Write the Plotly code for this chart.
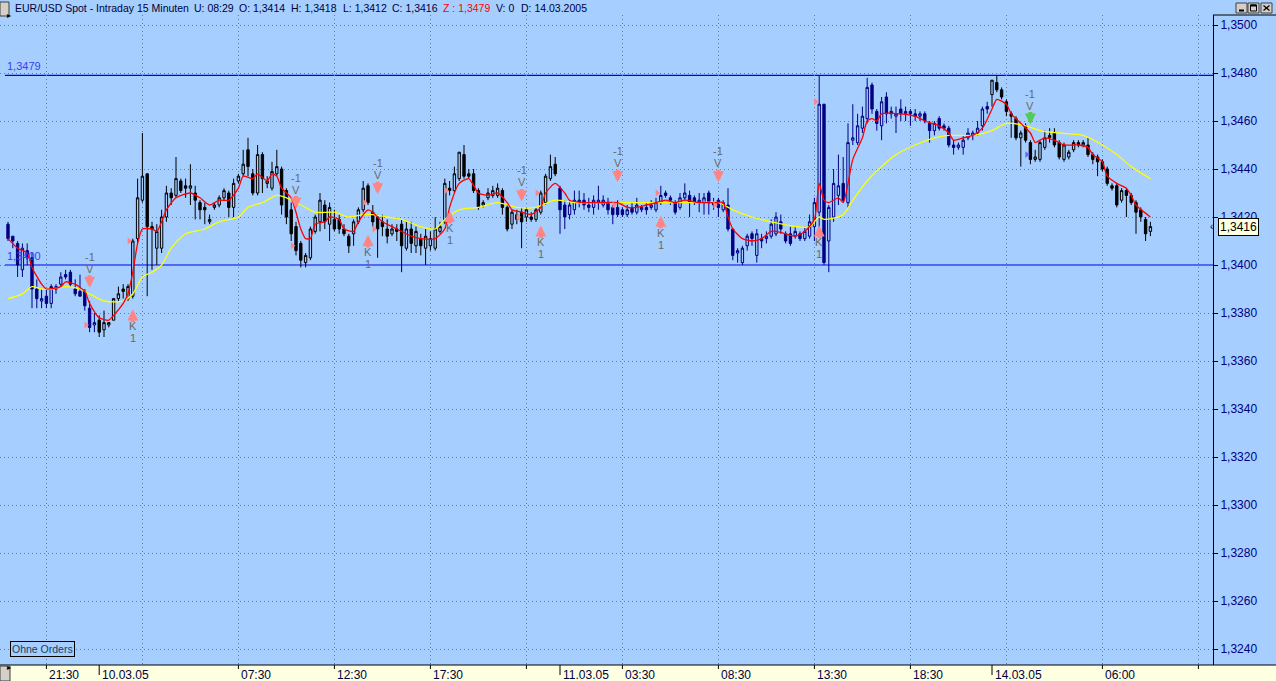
import plotly.graph_objects as go

# ---------------- data ----------------
opens = [1.3417,1.3412,1.3409,1.3398,1.3406,1.3403,1.3390,1.3385,1.3387,1.3384,
         1.3390,1.3392,1.3396,1.3397,1.3390,1.3389,1.3389,1.3382,1.3375,1.3377,
         1.3373,1.3375,1.3377,1.3386,1.3390,1.3386,1.3387,1.3411,1.3427,1.3438,
         1.3416,1.3407,1.3407,1.3420,1.3430,1.3429,1.3435,1.3433,1.3432,1.3430,
         1.3426,1.3424,1.3418,1.3424,1.3425,1.3428,1.3430,1.3424,1.3435,1.3438,
         1.3448,1.3438,1.3430,1.3446,1.3434,1.3432,1.3438,1.3440,1.3431,1.3423,
         1.3416,1.3409,1.3401,1.3403,1.3414,1.3418,1.3425,1.3417,1.3419,1.3419,
         1.3415,1.3412,1.3413,1.3418,1.3423,1.3433,1.3422,1.3420,1.3418,1.3415,
         1.3413,1.3415,1.3417,1.3407,1.3415,1.3408,1.3411,1.3407,1.3408,1.3407,
         1.3414,1.3418,1.3432,1.3431,1.3436,1.3446,1.3438,1.3438,1.3431,1.3425,
         1.3428,1.3429,1.3429,1.3431,1.3424,1.3417,1.3421,1.3422,1.3420,1.3420,
         1.3419,1.3422,1.3426,1.3436,1.3442,1.3432,1.3425,1.3421,1.3423,1.3427,
         1.3427,1.3425,1.3424,1.3426,1.3425,1.3426,1.3424,1.3424,1.3423,1.3421,
         1.3424,1.3422,1.3423,1.3424,1.3424,1.3423,1.3426,1.3430,1.3428,1.3426,
         1.3424,1.3428,1.3429,1.3428,1.3426,1.3426,1.3430,1.3426,1.3427,1.3423,
         1.3425,1.3415,1.3405,1.3401,1.3408,1.3413,1.3404,1.3411,1.3411,1.3412,
         1.3413,1.3418,1.3413,1.3413,1.3412,1.3413,1.3411,1.3412,1.3416,1.3422,
         1.3467,1.3410,1.3420,1.3429,1.3434,1.3426,1.3452,1.3451,1.3457,1.3461,
         1.3475,1.3464,1.3458,1.3470,1.3464,1.3462,1.3465,1.3463,1.3464,1.3463,
         1.3462,1.3463,1.3459,1.3456,1.3461,1.3458,1.3457,1.3450,1.3449,1.3449,
         1.3453,1.3454,1.3455,1.3458,1.3466,1.3471,1.3476,1.3473,1.3468,1.3463,
         1.3461,1.3453,1.3458,1.3451,1.3444,1.3444,1.3449,1.3453,1.3455,1.3451,
         1.3444,1.3445,1.3448,1.3451,1.3450,1.3450,1.3446,1.3445,1.3443,1.3440,
         1.3433,1.3433,1.3427,1.3431,1.3429,1.3426,1.3423,1.3419,1.3414]
highs = [1.3418,1.3412,1.3410,1.3409,1.3409,1.3405,1.3394,1.3390,1.3390,1.3392,
         1.3392,1.3397,1.3398,1.3398,1.3394,1.3396,1.3390,1.3385,1.3380,1.3379,
         1.3381,1.3376,1.3386,1.3391,1.3392,1.3392,1.3411,1.3436,1.3455,1.3438,
         1.3418,1.3417,1.3423,1.3433,1.3432,1.3445,1.3436,1.3436,1.3442,1.3433,
         1.3427,1.3426,1.3421,1.3426,1.3429,1.3432,1.3431,1.3436,1.3438,1.3448,
         1.3453,1.3440,1.3450,1.3447,1.3437,1.3443,1.3448,1.3441,1.3432,1.3426,
         1.3418,1.3410,1.3405,1.3416,1.3421,1.3430,1.3427,1.3426,1.3423,1.3421,
         1.3417,1.3413,1.3419,1.3424,1.3435,1.3434,1.3425,1.3421,1.3421,1.3419,
         1.3417,1.3417,1.3419,1.3418,1.3418,1.3416,1.3413,1.3415,1.3414,1.3420,
         1.3418,1.3436,1.3435,1.3441,1.3447,1.3450,1.3440,1.3440,1.3432,1.3427,
         1.3432,1.3433,1.3434,1.3432,1.3425,1.3423,1.3423,1.3424,1.3424,1.3422,
         1.3424,1.3431,1.3438,1.3446,1.3445,1.3433,1.3427,1.3427,1.3431,1.3431,
         1.3430,1.3428,1.3429,1.3433,1.3429,1.3428,1.3425,1.3427,1.3424,1.3425,
         1.3426,1.3428,1.3425,1.3426,1.3427,1.3428,1.3433,1.3431,1.3429,1.3427,
         1.3430,1.3434,1.3431,1.3429,1.3430,1.3430,1.3431,1.3428,1.3428,1.3427,
         1.3432,1.3415,1.3407,1.3408,1.3413,1.3414,1.3415,1.3413,1.3414,1.3419,
         1.3422,1.3421,1.3414,1.3416,1.3416,1.3414,1.3416,1.3421,1.3428,1.3479,
         1.3467,1.3425,1.3440,1.3446,1.3445,1.3459,1.3467,1.3463,1.3466,1.3478,
         1.3476,1.3465,1.3470,1.3472,1.3466,1.3466,1.3469,1.3466,1.3465,1.3465,
         1.3464,1.3464,1.3460,1.3460,1.3462,1.3459,1.3458,1.3452,1.3451,1.3454,
         1.3457,1.3456,1.3460,1.3466,1.3468,1.3477,1.3479,1.3474,1.3469,1.3464,
         1.3462,1.3456,1.3459,1.3452,1.3448,1.3452,1.3456,1.3457,1.3457,1.3452,
         1.3451,1.3448,1.3452,1.3452,1.3452,1.3453,1.3447,1.3446,1.3444,1.3441,
         1.3434,1.3434,1.3432,1.3432,1.3430,1.3427,1.3424,1.3420,1.3418]
lows = [1.3410,1.3407,1.3395,1.3395,1.3400,1.3382,1.3382,1.3382,1.3382,1.3382,
        1.3388,1.3391,1.3394,1.3391,1.3387,1.3387,1.3381,1.3372,1.3372,1.3370,
        1.3370,1.3374,1.3377,1.3385,1.3386,1.3385,1.3386,1.3409,1.3426,1.3387,
        1.3398,1.3400,1.3405,1.3418,1.3425,1.3428,1.3430,1.3428,1.3425,1.3419,
        1.3419,1.3417,1.3417,1.3423,1.3424,1.3427,1.3420,1.3420,1.3434,1.3437,
        1.3437,1.3429,1.3429,1.3430,1.3432,1.3431,1.3437,1.3421,1.3417,1.3410,
        1.3404,1.3399,1.3399,1.3402,1.3413,1.3414,1.3415,1.3410,1.3414,1.3413,
        1.3412,1.3405,1.3408,1.3417,1.3422,1.3425,1.3416,1.3403,1.3412,1.3409,
        1.3412,1.3410,1.3397,1.3406,1.3405,1.3405,1.3404,1.3400,1.3406,1.3406,
        1.3413,1.3417,1.3429,1.3430,1.3435,1.3436,1.3436,1.3430,1.3423,1.3424,
        1.3427,1.3428,1.3428,1.3421,1.3414,1.3415,1.3417,1.3407,1.3418,1.3418,
        1.3418,1.3421,1.3425,1.3435,1.3437,1.3413,1.3415,1.3419,1.3421,1.3424,
        1.3423,1.3422,1.3421,1.3423,1.3424,1.3421,1.3417,1.3420,1.3420,1.3420,
        1.3421,1.3421,1.3422,1.3421,1.3423,1.3422,1.3425,1.3428,1.3425,1.3421,
        1.3423,1.3427,1.3420,1.3425,1.3422,1.3421,1.3421,1.3423,1.3420,1.3422,
        1.3414,1.3402,1.3401,1.3400,1.3406,1.3408,1.3401,1.3407,1.3409,1.3411,
        1.3412,1.3413,1.3409,1.3408,1.3411,1.3410,1.3410,1.3411,1.3410,1.3414,
        1.3400,1.3397,1.3418,1.3425,1.3426,1.3424,1.3450,1.3450,1.3455,1.3459,
        1.3463,1.3456,1.3452,1.3459,1.3461,1.3455,1.3460,1.3460,1.3458,1.3460,
        1.3460,1.3459,1.3451,1.3454,1.3456,1.3456,1.3449,1.3446,1.3448,1.3446,
        1.3452,1.3452,1.3454,1.3456,1.3463,1.3466,1.3472,1.3469,1.3462,1.3453,
        1.3452,1.3441,1.3451,1.3442,1.3443,1.3443,1.3448,1.3451,1.3449,1.3444,
        1.3443,1.3444,1.3447,1.3449,1.3449,1.3445,1.3442,1.3437,1.3439,1.3433,
        1.3431,1.3424,1.3426,1.3420,1.3425,1.3413,1.3418,1.3410,1.3412]
closes = [1.3411,1.3410,1.3400,1.3407,1.3403,1.3390,1.3386,1.3386,1.3384,1.3391,
          1.3391,1.3395,1.3395,1.3392,1.3388,1.3387,1.3383,1.3374,1.3376,1.3372,
          1.3376,1.3376,1.3386,1.3388,1.3389,1.3391,1.3410,1.3428,1.3437,1.3416,
          1.3415,1.3414,1.3420,1.3430,1.3428,1.3436,1.3431,1.3432,1.3433,1.3427,
          1.3423,1.3423,1.3419,1.3425,1.3428,1.3431,1.3424,1.3434,1.3437,1.3442,
          1.3441,1.3430,1.3446,1.3436,1.3435,1.3439,1.3441,1.3425,1.3420,1.3413,
          1.3406,1.3402,1.3404,1.3415,1.3420,1.3427,1.3418,1.3424,1.3415,1.3415,
          1.3413,1.3408,1.3418,1.3423,1.3432,1.3426,1.3418,1.3415,1.3416,1.3412,
          1.3415,1.3414,1.3408,1.3415,1.3409,1.3414,1.3408,1.3412,1.3411,1.3415,
          1.3416,1.3434,1.3431,1.3438,1.3447,1.3437,1.3437,1.3431,1.3424,1.3426,
          1.3430,1.3431,1.3432,1.3424,1.3415,1.3422,1.3419,1.3418,1.3423,1.3419,
          1.3423,1.3430,1.3437,1.3441,1.3438,1.3423,1.3420,1.3425,1.3427,1.3426,
          1.3425,1.3424,1.3427,1.3427,1.3427,1.3423,1.3421,1.3421,1.3421,1.3423,
          1.3422,1.3425,1.3424,1.3423,1.3425,1.3426,1.3429,1.3429,1.3427,1.3422,
          1.3428,1.3430,1.3426,1.3426,1.3427,1.3428,1.3426,1.3425,1.3424,1.3426,
          1.3415,1.3404,1.3406,1.3407,1.3412,1.3411,1.3413,1.3410,1.3412,1.3417,
          1.3420,1.3415,1.3410,1.3409,1.3414,1.3411,1.3414,1.3418,1.3426,1.3467,
          1.3401,1.3424,1.3434,1.3433,1.3427,1.3451,1.3453,1.3458,1.3462,1.3474,
          1.3465,1.3459,1.3468,1.3463,1.3463,1.3463,1.3463,1.3464,1.3463,1.3462,
          1.3463,1.3460,1.3456,1.3459,1.3457,1.3457,1.3450,1.3449,1.3450,1.3452,
          1.3455,1.3455,1.3457,1.3465,1.3465,1.3477,1.3473,1.3470,1.3464,1.3462,
          1.3453,1.3455,1.3452,1.3444,1.3445,1.3451,1.3453,1.3454,1.3450,1.3445,
          1.3450,1.3447,1.3451,1.3450,1.3451,1.3446,1.3444,1.3443,1.3440,1.3434,
          1.3432,1.3425,1.3431,1.3429,1.3426,1.3422,1.3420,1.3413,1.3416]

session_start = [0, 19, 115, 205]          # first bar of 09.03, 10.03, 11.03, 14.03
session_color = ['#000080', '#000000', '#000080', '#000000']

# short moving average (red) and long moving average (yellow)
red_bar = [0,2,4,5,7,8,11,12,14,16,17,19,21,22,24,25,26,27,28,30,31,32,33,35,38,40,42,44,46,48,
           49,51,52,54,55,56,57,59,60,61,62,63,64,66,67,69,70,72,73,75,76,78,80,81,84,86,89,91,92,94,
           96,98,100,102,104,105,107,109,111,112,114,116,117,120,123,127,129,131,133,135,137,139,141,144,147,149,150,151,153,155,
           157,159,160,162,164,166,168,169,170,171,173,174,175,176,178,179,180,181,182,186,189,191,194,196,197,199,201,203,205,206,
           208,209,211,213,214,215,216,218,220,222,223,225,226,228,229,231,233,234,235,238]
red_val = [1.3411,1.3407,1.3405,1.3399,1.3392,1.3390,1.3391,1.3393,1.3392,1.3389,1.3384,1.3378,1.3377,1.3379,1.3384,1.3388,1.3397,1.3409,1.3415,1.3415,
           1.3414,1.3418,1.3423,1.3428,1.3430,1.3428,1.3425,1.3427,1.3427,1.3432,1.3437,1.3436,1.3438,1.3435,1.3438,1.3437,1.3432,1.3428,1.3422,1.3415,
           1.3411,1.3411,1.3417,1.3418,1.3420,1.3419,1.3415,1.3414,1.3418,1.3423,1.3422,1.3418,1.3416,1.3415,1.3412,1.3411,1.3411,1.3415,1.3424,1.3434,
           1.3436,1.3430,1.3429,1.3430,1.3426,1.3423,1.3422,1.3421,1.3424,1.3430,1.3434,1.3430,1.3427,1.3426,1.3426,1.3426,1.3424,1.3424,1.3425,1.3426,
           1.3427,1.3426,1.3427,1.3426,1.3426,1.3426,1.3420,1.3415,1.3411,1.3410,1.3411,1.3414,1.3414,1.3413,1.3412,1.3414,1.3419,1.3434,1.3427,1.3426,
           1.3428,1.3426,1.3434,1.3444,1.3453,1.3460,1.3461,1.3460,1.3463,1.3463,1.3462,1.3460,1.3458,1.3455,1.3452,1.3453,1.3454,1.3457,1.3465,1.3469,
           1.3467,1.3463,1.3459,1.3455,1.3451,1.3452,1.3453,1.3452,1.3450,1.3450,1.3450,1.3449,1.3446,1.3443,1.3437,1.3434,1.3432,1.3429,1.3425,1.3420]
yel_bar = [0,3,5,7,9,12,15,17,20,24,26,28,30,32,34,37,41,44,48,50,53,56,58,61,64,68,71,74,76,79,
           82,86,89,91,94,98,102,106,110,114,118,123,130,137,144,148,151,155,159,164,167,169,170,174,176,179,182,185,189,193,
           196,201,205,208,212,215,219,224,228,231,234,238]
yel_val = [1.3386,1.3388,1.3391,1.3390,1.3390,1.3391,1.3390,1.3388,1.3385,1.3385,1.3388,1.3395,1.3397,1.3400,1.3407,1.3413,1.3415,1.3418,1.3420,1.3424,
           1.3426,1.3429,1.3428,1.3425,1.3422,1.3422,1.3420,1.3421,1.3421,1.3420,1.3419,1.3416,1.3415,1.3419,1.3423,1.3424,1.3426,1.3424,1.3424,1.3427,
           1.3426,1.3426,1.3426,1.3426,1.3426,1.3426,1.3423,1.3420,1.3418,1.3416,1.3416,1.3420,1.3419,1.3421,1.3427,1.3435,1.3441,1.3446,1.3450,1.3453,
           1.3454,1.3454,1.3456,1.3459,1.3458,1.3456,1.3455,1.3454,1.3450,1.3446,1.3441,1.3436]

# trading signals
sell_bar = [17, 60, 77, 107, 127, 148]
sell_lvl = [1.3393, 1.3426, 1.3432, 1.3429, 1.3437, 1.3437]
buy_bar = [26, 75, 92, 111, 136, 169]
buy_lvl = [1.3379, 1.3410, 1.3420, 1.3414, 1.3418, 1.3414]
exit_bar = [213]
exit_lvl = [1.3461]
fill_bar = [17, 26, 60, 75, 77, 92, 107, 111, 127, 136, 148, 169]
fill_px = [1.3375, 1.3410, 1.3408, 1.3426, 1.3415, 1.3431, 1.3420, 1.3430, 1.3425, 1.3430, 1.3425, 1.3468]
exit_fill_bar = [213]
exit_fill_px = [1.3446]

grid_bars = [8, 28, 48, 68, 88, 108, 128, 148, 168, 188, 208, 228, 248]
time_tick_bars = [8, 48, 68, 88, 108, 128, 148, 168, 188, 228, 248]
date_tick_bars = [19, 115, 205]
label_bars = [8, 19, 48, 68, 88, 115, 128, 148, 168, 188, 205, 228]
label_text = ['21:30', '10.03.05', '07:30', '12:30', '17:30', '11.03.05', '03:30',
              '08:30', '13:30', '18:30', '14.03.05', '06:00']

y_ticks = [1.3240, 1.3260, 1.3280, 1.3300, 1.3320, 1.3340, 1.3360, 1.3380, 1.3400,
           1.3420, 1.3440, 1.3460, 1.3480, 1.3500]
y_tick_text = ['1,3240', '1,3260', '1,3280', '1,3300', '1,3320', '1,3340', '1,3360',
               '1,3380', '1,3400', '1,3420', '1,3440', '1,3460', '1,3480', '1,3500']
level_lines = [1.3479, 1.3400]
level_text = ['1,3479', '1,3400']
last_close = 1.3416

# ---------------- figure ----------------
W, H = 1276, 681
ML, MR, MT, MB = 0, 63, 15, 16
PW, PH = W - ML - MR, H - MT - MB
BG = '#A6CEFF'
FONT = 'Liberation Sans, Arial, sans-serif'
SIG = '#FF8585'
TXT = '#6a6a5c'

def px(xp):
    return (xp - ML) / PW

def py(yp):
    return (H - MB - yp) / PH

fig = go.Figure()
bounds = session_start + [len(opens)]
idx = list(range(len(opens)))
for k in range(len(session_start)):
    s, e = bounds[k], bounds[k + 1]
    c = session_color[k]
    fig.add_trace(go.Candlestick(
        x=idx[s:e], open=opens[s:e], high=highs[s:e], low=lows[s:e], close=closes[s:e],
        increasing=dict(line=dict(color=c, width=1), fillcolor=BG),
        decreasing=dict(line=dict(color=c, width=1), fillcolor=c),
        whiskerwidth=0, hoverinfo='skip', showlegend=False))

fig.add_trace(go.Scatter(x=yel_bar, y=yel_val, mode='lines',
                         line=dict(color='#FFFF00', width=1.3, shape='spline', smoothing=0.8),
                         hoverinfo='skip', showlegend=False))
fig.add_trace(go.Scatter(x=red_bar, y=red_val, mode='lines',
                         line=dict(color='#FF0000', width=1.3, shape='spline', smoothing=0.6),
                         hoverinfo='skip', showlegend=False))

# fill markers (small triangles just left of the signal bar)
fig.add_trace(go.Scatter(x=[b - 0.75 for b in fill_bar], y=fill_px, mode='markers',
                         marker=dict(symbol='triangle-right', size=6, color=SIG),
                         hoverinfo='skip', showlegend=False))
fig.add_trace(go.Scatter(x=[b - 0.75 for b in exit_fill_bar], y=exit_fill_px, mode='markers',
                         marker=dict(symbol='triangle-right', size=6, color='#6868FF'),
                         hoverinfo='skip', showlegend=False))

ann = []
shapes = []

def arrow(xb, lvl, down, color):
    sgn = 1 if down else -1
    ann.append(dict(x=xb, y=lvl, xref='x', yref='y', text='', showarrow=True,
                    ax=0, ay=-14 * sgn, yshift=-6 * sgn, arrowhead=2, arrowsize=0.55,
                    arrowwidth=4, arrowcolor=color))

def sig_text(xb, lvl, text, shift):
    ann.append(dict(x=xb, y=lvl, xref='x', yref='y', text=text, showarrow=False,
                    yshift=shift, font=dict(family=FONT, size=11, color=TXT)))

for b, l in zip(sell_bar, sell_lvl):
    arrow(b, l, True, SIG)
    sig_text(b, l, '-1', 25)
    sig_text(b, l, 'V', 13)
for b, l in zip(exit_bar, exit_lvl):
    arrow(b, l, True, '#55C855')
    sig_text(b, l, '-1', 25)
    sig_text(b, l, 'V', 13)
for b, l in zip(buy_bar, buy_lvl):
    arrow(b, l, False, SIG)
    sig_text(b, l, 'K', -11)
    sig_text(b, l, '1', -23)

# horizontal level lines with labels
for lv, t in zip(level_lines, level_text):
    shapes.append(dict(type='line', xref='paper', x0=px(5), x1=1, yref='y', y0=lv, y1=lv,
                       line=dict(color='#0000F0', width=1.2), layer='below'))
    ann.append(dict(x=px(5), y=lv, xref='paper', yref='y', text=t, showarrow=False,
                    xanchor='left', yshift=9, font=dict(family=FONT, size=11, color='#3C3CF0')))

# bottom axis strip
shapes.append(dict(type='rect', xref='paper', yref='paper', x0=px(-2), x1=px(W + 2),
                   y0=py(H + 2), y1=0, fillcolor='#FFFFE1', line=dict(width=0), layer='below'))
shapes.append(dict(type='line', xref='paper', yref='paper', x0=px(0), x1=px(W),
                   y0=0, y1=0, line=dict(color='#000000', width=1)))
shapes.append(dict(type='line', xref='paper', yref='paper', x0=1, x1=px(W),
                   y0=1, y1=1, line=dict(color='#000000', width=1)))
for b in time_tick_bars:
    shapes.append(dict(type='line', xref='x', yref='paper', x0=b, x1=b, y0=0, y1=-4 / PH,
                       line=dict(color='#000000', width=1)))
for b in date_tick_bars:
    shapes.append(dict(type='line', xref='x', yref='paper', x0=b, x1=b, y0=0, y1=-10 / PH,
                       line=dict(color='#000000', width=1)))
for b, t in zip(label_bars, label_text):
    ann.append(dict(x=b, y=-9.5 / PH, xref='x', yref='paper', text=t, showarrow=False,
                    xanchor='left', yanchor='middle', xshift=1,
                    font=dict(family=FONT, size=12, color='#000040')))

# small window buttons / widgets
def button(x0, y0, x1, y1):
    shapes.append(dict(type='rect', xref='paper', yref='paper', x0=px(x0), x1=px(x1),
                       y0=py(y1), y1=py(y0), fillcolor='#D4D0C8',
                       line=dict(color='#404040', width=1)))

def seg(x0, y0, x1, y1, w=1):
    shapes.append(dict(type='line', xref='paper', yref='paper', x0=px(x0), x1=px(x1),
                       y0=py(y0), y1=py(y1), line=dict(color='#000000', width=w)))

button(0, 2, 9, 16)
ann.append(dict(x=px(4.5), y=py(9), xref='paper', yref='paper', text='▸', showarrow=False,
                font=dict(family='DejaVu Sans', size=8, color='#000000')))
button(0, 666, 10, 681)
ann.append(dict(x=px(5), y=py(674), xref='paper', yref='paper', text='▸', showarrow=False,
                font=dict(family='DejaVu Sans', size=8, color='#000000')))
# minimise / maximise / close buttons
button(1236, 3, 1247, 13)
seg(1239, 10.5, 1244, 10.5, 2)
button(1248, 3, 1259, 13)
shapes.append(dict(type='rect', xref='paper', yref='paper', x0=px(1250.5), x1=px(1256.5),
                   y0=py(11), y1=py(5), line=dict(color='#000000', width=1)))
seg(1250.5, 5.5, 1256.5, 5.5, 2)
button(1261, 3, 1272, 13)
seg(1263.5, 5.5, 1269.5, 10.5, 1.3)
seg(1263.5, 10.5, 1269.5, 5.5, 1.3)

# header
header = [(13, 'EUR/USD Spot - Intraday 15 Minuten', '#00003c'),
          (192, 'U: 08:29', '#00003c'), (237, 'O: 1,3414', '#00003c'),
          (289, 'H: 1,3418', '#00003c'), (341, 'L: 1,3412', '#00003c'),
          (390, 'C: 1,3416', '#00003c'), (441, 'Z : 1,3479', '#FF0000'),
          (494, 'V: 0', '#00003c'), (519, 'D: 14.03.2005', '#00003c')]
for xh, t, c in header:
    ann.append(dict(x=px(xh), y=py(7.5), xref='paper', yref='paper', text=t, showarrow=False,
                    xanchor='left', yanchor='middle', font=dict(family=FONT, size=10.5, color=c)))

# Ohne Orders box
ann.append(dict(x=px(42.5), y=py(648.5), xref='paper', yref='paper', text='Ohne Orders',
                showarrow=False, xanchor='center', yanchor='middle',
                bgcolor=BG, bordercolor='#000000', borderwidth=1, borderpad=1,
                font=dict(family=FONT, size=10.5, color='#17405f')))

# last price box
ann.append(dict(x=px(1218), y=last_close, xref='paper', yref='y', text='1,3416',
                showarrow=False, xanchor='left', bgcolor='#FFFFE1', bordercolor='#000000',
                borderwidth=1, borderpad=1, font=dict(family=FONT, size=12, color='#000000')))
ann.append(dict(x=px(1215), y=last_close, xref='paper', yref='y', text='‹',
                showarrow=False, font=dict(family=FONT, size=10, color='#000000')))

fig.update_layout(
    width=W, height=H, margin=dict(l=ML, r=MR, t=MT, b=MB),
    paper_bgcolor=BG, plot_bgcolor=BG, showlegend=False, hovermode=False,
    annotations=ann, shapes=shapes,
    xaxis=dict(range=[-8 / 4.8, (PW - 8) / 4.8], tickvals=grid_bars, showticklabels=False,
               ticks='', showgrid=True, gridcolor='#7a7a7a', griddash='1px,3px', gridwidth=1,
               zeroline=False, showline=False, rangeslider=dict(visible=False), fixedrange=True),
    yaxis=dict(side='right', range=[1.3240 - 16 / 24000, 1.3500 + 10 / 24000],
               autorange=False, tickvals=y_ticks, ticktext=y_tick_text,
               showgrid=True, gridcolor='#7a7a7a', griddash='1px,3px', gridwidth=1,
               zeroline=False, showline=True, linecolor='#000000', linewidth=1,
               ticks='outside', ticklen=4, tickcolor='#000000',
               tickfont=dict(family=FONT, size=12, color='#000080'), fixedrange=True),
)

fig.write_html('out.html', config={'displayModeBar': False},
               post_script="document.body.style.margin='0';document.body.style.overflow='hidden';")
